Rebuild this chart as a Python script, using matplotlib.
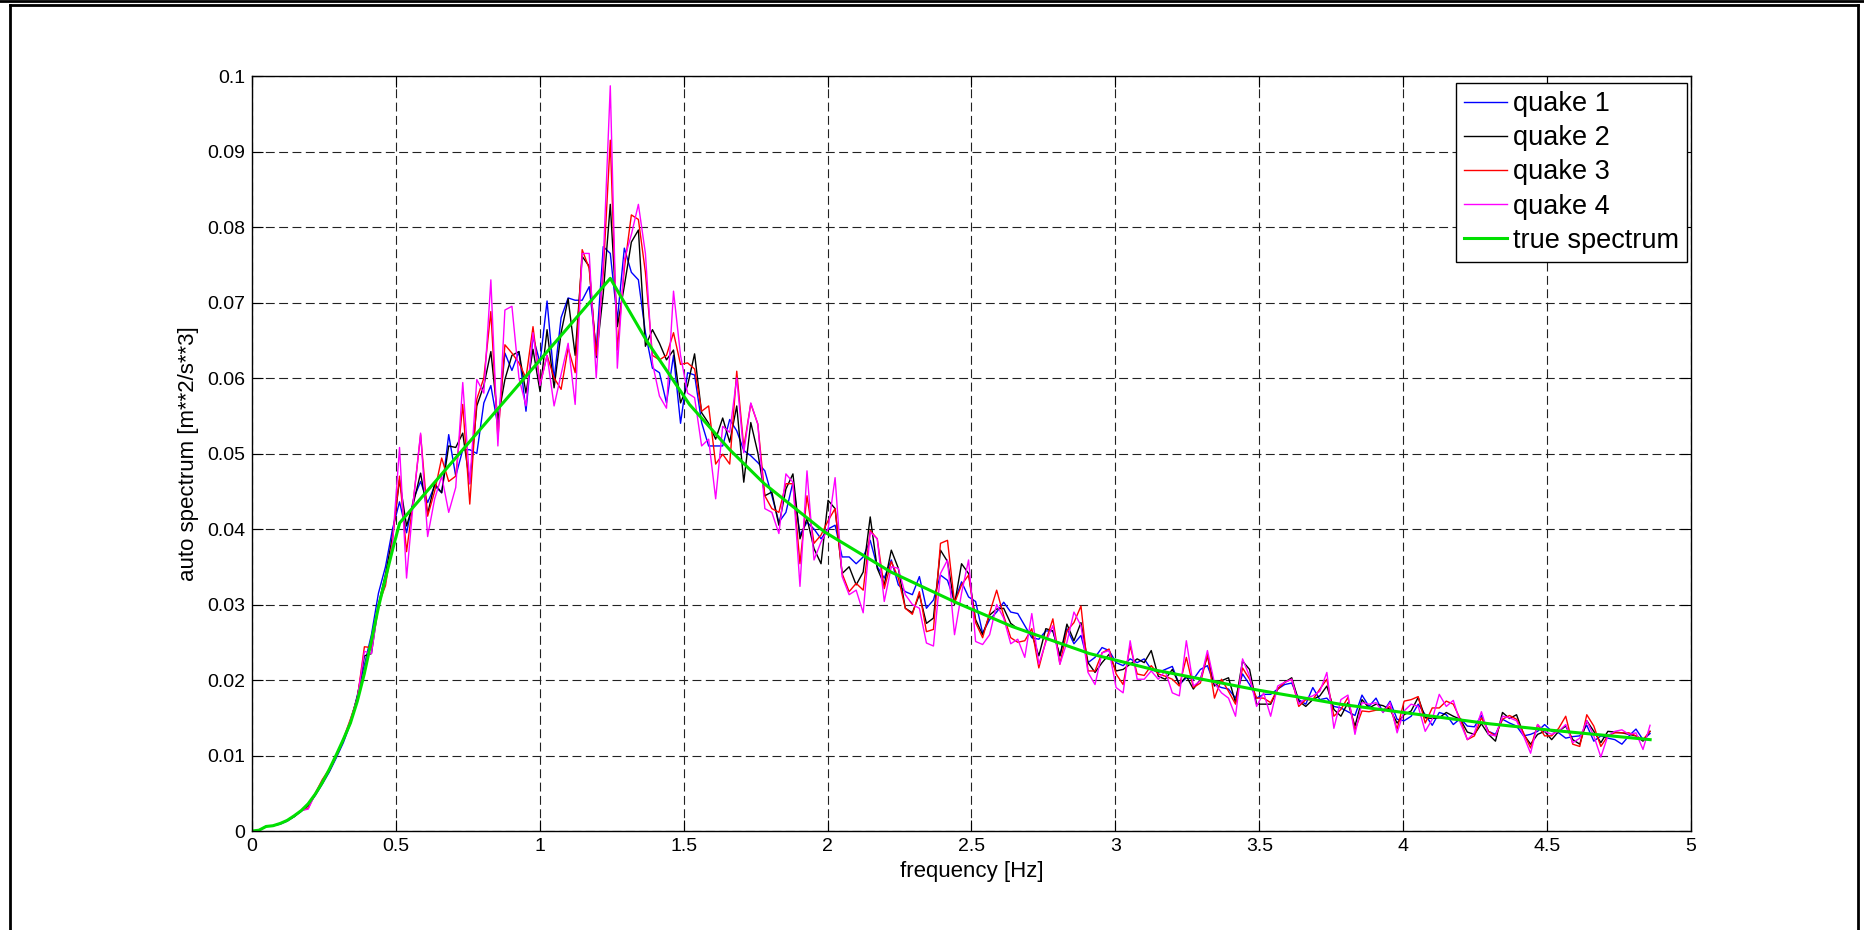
import numpy as np
import matplotlib.pyplot as plt

# frequency spacing of the spectral estimates [Hz]
df = 0.02441
n_pts = 200

quake1 = [
    0, 0.0001, 0.0006, 0.0007, 0.0009, 0.0013, 0.0019, 0.0026, 0.0034, 0.0047, 0.0062,
    0.0078, 0.0097, 0.0117, 0.0142, 0.0180, 0.0220, 0.0260, 0.0315, 0.0350, 0.0400,
    0.0436, 0.0395, 0.0440, 0.0463, 0.0435, 0.0457, 0.0448, 0.0525, 0.0470, 0.0505,
    0.0505, 0.0500, 0.0567, 0.0590, 0.0536, 0.0633, 0.0610, 0.0635, 0.0556, 0.0655,
    0.0620, 0.0702, 0.0598, 0.0680, 0.0706, 0.0703, 0.0703, 0.0721, 0.0638, 0.0774,
    0.0765, 0.0677, 0.0772, 0.0740, 0.0730, 0.0660, 0.0613, 0.0607, 0.0567, 0.0630,
    0.0540, 0.0607, 0.0604, 0.0541, 0.0510, 0.0510, 0.0510, 0.0545, 0.0530, 0.0504,
    0.0497, 0.0488, 0.0477, 0.0444, 0.0409, 0.0422, 0.0462, 0.0392, 0.0409, 0.0400,
    0.0387, 0.0400, 0.0405, 0.0363, 0.0363, 0.0354, 0.0363, 0.0385, 0.0350, 0.0335,
    0.0359, 0.0326, 0.0317, 0.0313, 0.0337, 0.0295, 0.0306, 0.0339, 0.0332, 0.0304,
    0.0330, 0.0310, 0.0304, 0.0262, 0.0280, 0.0290, 0.0303, 0.0290, 0.0288, 0.0272,
    0.0256, 0.0254, 0.0265, 0.0265, 0.0232, 0.0268, 0.0248, 0.0259, 0.0223, 0.0230,
    0.0243, 0.0239, 0.0223, 0.0219, 0.0228, 0.0223, 0.0228, 0.0214, 0.0210, 0.0214,
    0.0218, 0.0194, 0.0203, 0.0201, 0.0214, 0.0219, 0.0194, 0.0190, 0.0188, 0.0176,
    0.0208, 0.0194, 0.0176, 0.0181, 0.0181, 0.0188, 0.0194, 0.0196, 0.0174, 0.0168,
    0.0190, 0.0174, 0.0176, 0.0165, 0.0163, 0.0158, 0.0153, 0.0180, 0.0165, 0.0176,
    0.0157, 0.0172, 0.0148, 0.0146, 0.0152, 0.0168, 0.0154, 0.0140, 0.0157, 0.0154,
    0.0141, 0.0149, 0.0139, 0.0138, 0.0153, 0.0132, 0.0128, 0.0148, 0.0143, 0.0139,
    0.0126, 0.0128, 0.0132, 0.0141, 0.0132, 0.0130, 0.0123, 0.0125, 0.0126, 0.0140,
    0.0119, 0.0126, 0.0123, 0.0121, 0.0115, 0.0126, 0.0135, 0.0121, 0.0129,
]

quake2 = [
    0, 0.0001, 0.0006, 0.0007, 0.0010, 0.0014, 0.0019, 0.0027, 0.0033, 0.0048, 0.0064,
    0.0080, 0.0099, 0.0120, 0.0145, 0.0178, 0.0232, 0.0235, 0.0300, 0.0340, 0.0390,
    0.0465, 0.0404, 0.0435, 0.0474, 0.0420, 0.0460, 0.0448, 0.0510, 0.0508, 0.0527,
    0.0460, 0.0563, 0.0590, 0.0635, 0.0545, 0.0598, 0.0630, 0.0635, 0.0580, 0.0638,
    0.0582, 0.0664, 0.0587, 0.0660, 0.0705, 0.0630, 0.0761, 0.0748, 0.0627, 0.0712,
    0.0830, 0.0668, 0.0722, 0.0780, 0.0796, 0.0642, 0.0664, 0.0646, 0.0624, 0.0637,
    0.0567, 0.0590, 0.0632, 0.0554, 0.0540, 0.0519, 0.0547, 0.0515, 0.0563, 0.0462,
    0.0541, 0.0501, 0.0444, 0.0449, 0.0405, 0.0453, 0.0473, 0.0387, 0.0414, 0.0374,
    0.0354, 0.0438, 0.0427, 0.0341, 0.0350, 0.0326, 0.0343, 0.0416, 0.0348, 0.0326,
    0.0372, 0.0348, 0.0295, 0.0289, 0.0313, 0.0275, 0.0282, 0.0372, 0.0357, 0.0300,
    0.0354, 0.0341, 0.0280, 0.0260, 0.0286, 0.0294, 0.0295, 0.0275, 0.0268, 0.0265,
    0.0261, 0.0232, 0.0268, 0.0265, 0.0232, 0.0274, 0.0252, 0.0276, 0.0223, 0.0210,
    0.0223, 0.0234, 0.0212, 0.0214, 0.0221, 0.0228, 0.0223, 0.0239, 0.0205, 0.0201,
    0.0214, 0.0194, 0.0205, 0.0188, 0.0201, 0.0232, 0.0192, 0.0199, 0.0203, 0.0170,
    0.0225, 0.0214, 0.0168, 0.0168, 0.0168, 0.0188, 0.0197, 0.0203, 0.0172, 0.0165,
    0.0174, 0.0179, 0.0192, 0.0161, 0.0152, 0.0170, 0.0139, 0.0174, 0.0163, 0.0168,
    0.0166, 0.0161, 0.0143, 0.0154, 0.0159, 0.0177, 0.0150, 0.0149, 0.0150, 0.0157,
    0.0152, 0.0148, 0.0131, 0.0128, 0.0142, 0.0128, 0.0119, 0.0157, 0.0149, 0.0154,
    0.0128, 0.0115, 0.0128, 0.0132, 0.0121, 0.0132, 0.0139, 0.0121, 0.0115, 0.0146,
    0.0132, 0.0117, 0.0132, 0.0131, 0.0130, 0.0128, 0.0126, 0.0119, 0.0132,
]

quake3 = [
    0, 0.0001, 0.0006, 0.0007, 0.0010, 0.0014, 0.0020, 0.0027, 0.0030, 0.0050, 0.0068,
    0.0082, 0.0100, 0.0122, 0.0148, 0.0176, 0.0244, 0.0243, 0.0300, 0.0325, 0.0385,
    0.0470, 0.0370, 0.0440, 0.0525, 0.0417, 0.0450, 0.0494, 0.0463, 0.0470, 0.0565,
    0.0433, 0.0572, 0.0600, 0.0688, 0.0520, 0.0644, 0.0633, 0.0620, 0.0600, 0.0668,
    0.0591, 0.0630, 0.0600, 0.0585, 0.0640, 0.0607, 0.0770, 0.0745, 0.0630, 0.0740,
    0.0915, 0.0637, 0.0745, 0.0816, 0.0810, 0.0740, 0.0630, 0.0624, 0.0630, 0.0660,
    0.0618, 0.0620, 0.0612, 0.0556, 0.0563, 0.0486, 0.0499, 0.0486, 0.0609, 0.0508,
    0.0566, 0.0539, 0.0444, 0.0427, 0.0422, 0.0460, 0.0460, 0.0354, 0.0444, 0.0381,
    0.0392, 0.0411, 0.0427, 0.0341, 0.0317, 0.0328, 0.0319, 0.0398, 0.0387, 0.0321,
    0.0357, 0.0335, 0.0295, 0.0287, 0.0317, 0.0264, 0.0267, 0.0381, 0.0385, 0.0302,
    0.0326, 0.0339, 0.0276, 0.0256, 0.0289, 0.0319, 0.0285, 0.0256, 0.0250, 0.0252,
    0.0268, 0.0216, 0.0252, 0.0281, 0.0221, 0.0265, 0.0276, 0.0298, 0.0212, 0.0212,
    0.0236, 0.0241, 0.0208, 0.0194, 0.0245, 0.0208, 0.0206, 0.0219, 0.0208, 0.0205,
    0.0201, 0.0192, 0.0230, 0.0190, 0.0196, 0.0234, 0.0176, 0.0201, 0.0185, 0.0168,
    0.0216, 0.0201, 0.0176, 0.0176, 0.0170, 0.0188, 0.0197, 0.0201, 0.0165, 0.0174,
    0.0174, 0.0188, 0.0201, 0.0152, 0.0161, 0.0177, 0.0134, 0.0159, 0.0158, 0.0160,
    0.0160, 0.0165, 0.0135, 0.0172, 0.0174, 0.0178, 0.0143, 0.0163, 0.0163, 0.0172,
    0.0168, 0.0148, 0.0121, 0.0126, 0.0150, 0.0132, 0.0126, 0.0148, 0.0153, 0.0148,
    0.0130, 0.0110, 0.0141, 0.0126, 0.0126, 0.0136, 0.0152, 0.0115, 0.0112, 0.0154,
    0.0139, 0.0112, 0.0126, 0.0130, 0.0130, 0.0130, 0.0126, 0.0121, 0.0132,
]

quake4 = [
    0, 0.0001, 0.0006, 0.0007, 0.0010, 0.0014, 0.0020, 0.0027, 0.0029, 0.0049, 0.0066,
    0.0081, 0.0099, 0.0121, 0.0146, 0.0176, 0.0238, 0.0235, 0.0298, 0.0330, 0.0380,
    0.0508, 0.0335, 0.0440, 0.0527, 0.0390, 0.0440, 0.0470, 0.0422, 0.0455, 0.0594,
    0.0460, 0.0598, 0.0580, 0.0730, 0.0510, 0.0690, 0.0695, 0.0600, 0.0563, 0.0660,
    0.0590, 0.0630, 0.0563, 0.0605, 0.0646, 0.0565, 0.0765, 0.0765, 0.0600, 0.0755,
    0.0987, 0.0613, 0.0757, 0.0790, 0.0830, 0.0765, 0.0620, 0.0576, 0.0560, 0.0715,
    0.0630, 0.0580, 0.0574, 0.0510, 0.0519, 0.0440, 0.0536, 0.0528, 0.0600, 0.0501,
    0.0567, 0.0539, 0.0427, 0.0422, 0.0394, 0.0473, 0.0462, 0.0324, 0.0477, 0.0359,
    0.0383, 0.0400, 0.0468, 0.0337, 0.0313, 0.0319, 0.0289, 0.0396, 0.0387, 0.0304,
    0.0350, 0.0348, 0.0313, 0.0300, 0.0295, 0.0249, 0.0245, 0.0341, 0.0359, 0.0260,
    0.0315, 0.0359, 0.0251, 0.0247, 0.0260, 0.0300, 0.0282, 0.0248, 0.0254, 0.0230,
    0.0288, 0.0221, 0.0250, 0.0272, 0.0221, 0.0250, 0.0290, 0.0272, 0.0210, 0.0194,
    0.0236, 0.0239, 0.0190, 0.0183, 0.0252, 0.0201, 0.0201, 0.0212, 0.0201, 0.0212,
    0.0183, 0.0179, 0.0252, 0.0192, 0.0199, 0.0239, 0.0196, 0.0183, 0.0176, 0.0152,
    0.0228, 0.0205, 0.0165, 0.0183, 0.0152, 0.0192, 0.0197, 0.0201, 0.0168, 0.0176,
    0.0179, 0.0185, 0.0210, 0.0136, 0.0174, 0.0180, 0.0128, 0.0170, 0.0168, 0.0170,
    0.0157, 0.0170, 0.0130, 0.0159, 0.0168, 0.0165, 0.0132, 0.0148, 0.0181, 0.0165,
    0.0173, 0.0143, 0.0121, 0.0130, 0.0158, 0.0128, 0.0126, 0.0152, 0.0150, 0.0146,
    0.0126, 0.0103, 0.0141, 0.0132, 0.0128, 0.0132, 0.0141, 0.0117, 0.0123, 0.0146,
    0.0126, 0.0098, 0.0126, 0.0132, 0.0134, 0.0128, 0.0130, 0.0108, 0.0140,
]

# model (target) spectrum, given at its own nodes
true_freq = [0, 0.024, 0.049, 0.073, 0.098, 0.122, 0.146, 0.171, 0.195, 0.22, 0.244,
             0.269, 0.293, 0.317, 0.342, 0.366, 0.39, 0.415, 0.439, 0.464, 0.488,
             0.513, 1.245, 1.37, 1.52, 1.66, 1.78, 1.99, 2.22, 2.45, 2.64, 2.91,
             3.14, 3.49, 3.78, 4.0, 4.3, 4.5, 4.858]
true_spec = [0, 0.0001, 0.0006, 0.0007, 0.001, 0.0014, 0.002, 0.0027, 0.0036, 0.0049,
             0.0064, 0.0082, 0.0101, 0.0121, 0.0143, 0.0172, 0.0208, 0.0252, 0.0296,
             0.0335, 0.0372, 0.0408, 0.0732, 0.065, 0.0565, 0.0505, 0.046, 0.0396,
             0.0343, 0.0302, 0.0271, 0.0235, 0.0213, 0.0187, 0.0168, 0.0157, 0.0142,
             0.0134, 0.0121]

labels = ['quake 1', 'quake 2', 'quake 3', 'quake 4', 'true spectrum']
colors = ['#0000ff', '#000000', '#ff0000', '#ff00ff', '#00e000']

freq = np.arange(n_pts) * df

plt.rcParams['font.family'] = ['Liberation Sans', 'DejaVu Sans']

W, H = 1865, 930
fig = plt.figure(figsize=(W / 100, H / 100), dpi=100)
ax = fig.add_axes([252 / W, 99 / H, 1439 / W, 755 / H])

# window frame: line along the top edge, plus left/top/right borders
def frame_line(x0, y0, x1, y1):
    fig.add_artist(plt.Line2D([x0 / W, x1 / W], [1 - y0 / H, 1 - y1 / H],
                              transform=fig.transFigure, color='black', linewidth=2))

frame_line(0, 0.8, W, 0.8)
frame_line(10, 5.5, 1858, 5.5)
frame_line(10, 5.5, 10, H)
frame_line(1858, 5.5, 1858, H)

for y, lab, c in zip([quake1, quake2, quake3, quake4], labels[:4], colors[:4]):
    ax.plot(freq, y, color=c, linewidth=1.0, label=lab)
ax.plot(true_freq, true_spec, color=colors[4], linewidth=2.2, label=labels[4])

ax.set_xlim(0, 5)
ax.set_ylim(0, 0.1)
ax.set_xticks(np.arange(0, 5.01, 0.5))
ax.set_xticklabels(['0', '0.5', '1', '1.5', '2', '2.5', '3', '3.5', '4', '4.5', '5'])
ax.set_yticks(np.arange(0, 0.1001, 0.01))
ax.set_yticklabels(['0', '0.01', '0.02', '0.03', '0.04', '0.05', '0.06', '0.07',
                    '0.08', '0.09', '0.1'])
ax.tick_params(direction='in', length=8, width=0.8, labelsize=14, top=True, right=True,
               pad=5)
ax.grid(True, color='#222222', linestyle=(0, (8, 4)), linewidth=0.8)
for s in ax.spines.values():
    s.set_linewidth(1.0)

ax.set_xlabel('frequency [Hz]', fontsize=16, labelpad=4)
ax.set_ylabel('auto spectrum [m**2/s**3]', fontsize=16, labelpad=6)

leg = ax.legend(loc='upper right', bbox_to_anchor=(1687 / W, 1 - 83 / H),
                bbox_transform=fig.transFigure, borderaxespad=0, fontsize=19.5,
                fancybox=False, framealpha=1, edgecolor='black', handlelength=1.6,
                handletextpad=0.2, labelspacing=0.3, borderpad=0.3)
leg.get_frame().set_linewidth(1.0)

fig.savefig('out.png', dpi=100)
